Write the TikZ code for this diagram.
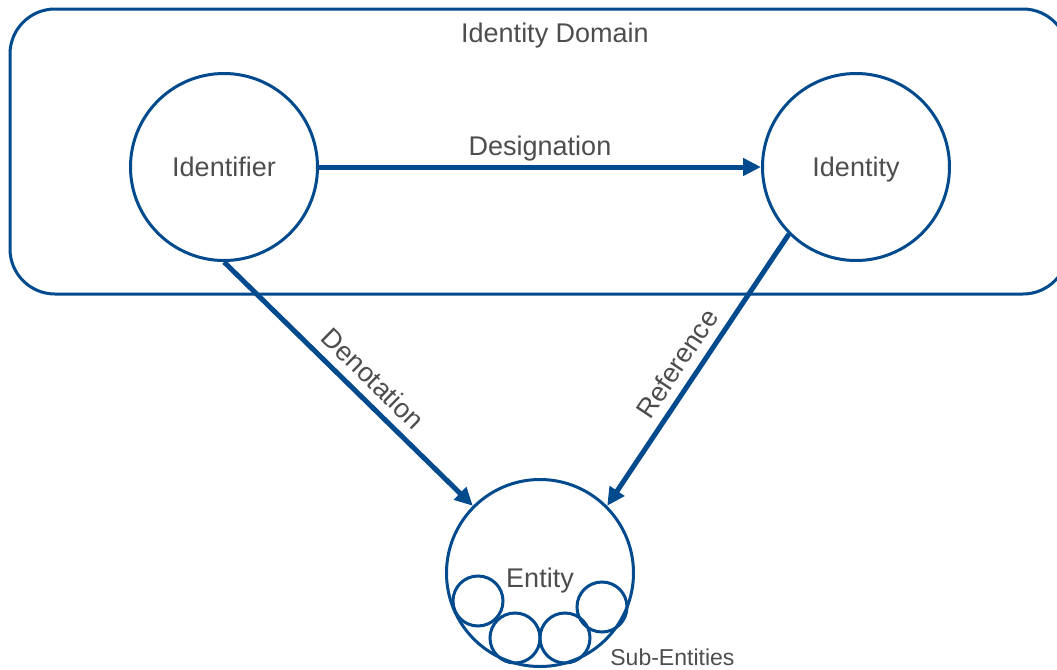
\documentclass[tikz,border=0pt]{standalone}
\usepackage{fontspec}
\setmainfont{Liberation Sans}
\usetikzlibrary{arrows.meta}

\definecolor{domainblue}{RGB}{0,74,141}
\definecolor{labelgray}{RGB}{77,77,77}

\begin{document}
\begin{tikzpicture}[x=0.5pt,y=-0.5pt,
    concept/.style={circle,draw=domainblue,line width=1.5pt,minimum size=93.5pt,
        inner sep=0pt,text=labelgray,font=\fontsize{13.5}{16}\selectfont,text depth=0pt},
    subent/.style={circle,draw=domainblue,line width=1.5pt,minimum size=25pt,inner sep=0pt},
    relation/.style={-{Triangle[length=9pt,width=8.5pt]},draw=domainblue,line width=2.5pt},
    rellabel/.style={text=labelgray,font=\fontsize{13.5}{16}\selectfont}]
    \useasboundingbox (0,0) rectangle (1057,670);

    % Identity domain
    \draw[domainblue,line width=1.5pt,rounded corners=22.5pt] (10,9) rectangle (1068,294);
    \node[rellabel] (domain) at (555,36) {Identity Domain};

    % Concepts
    \node[concept] (identifier) at (224,167) {Identifier};
    \node[concept] (identity) at (856,167) {Identity};
    \node[concept] (entity) at (540,573) {};
    \node[rellabel,text depth=0pt] (entitylabel) at (540,578) {Entity};

    % Sub-entities inside the entity
    \foreach \i/\x/\y in {1/478/601,2/515/638,3/565/638,4/602/607}
        \node[subent] (sub\i) at (\x,\y) {};
    \node[text=labelgray,font=\fontsize{11.5}{14}\selectfont,anchor=west,inner sep=0pt] (sublabel) at (610,657) {Sub-Entities};

    % Relations
    \draw[relation] (identifier.east) -- (identity.west)
        node[rellabel,midway,above,yshift=-1.5pt] {Designation};
    \draw[relation] (identifier.south) -- (entity.135)
        node[rellabel,pos=0.54,above=1pt,sloped] {Denotation};
    \draw[relation] (identity.225) -- (entity.45)
        node[rellabel,pos=0.52,above=1pt,sloped] {Reference};

\end{tikzpicture}
\end{document}
